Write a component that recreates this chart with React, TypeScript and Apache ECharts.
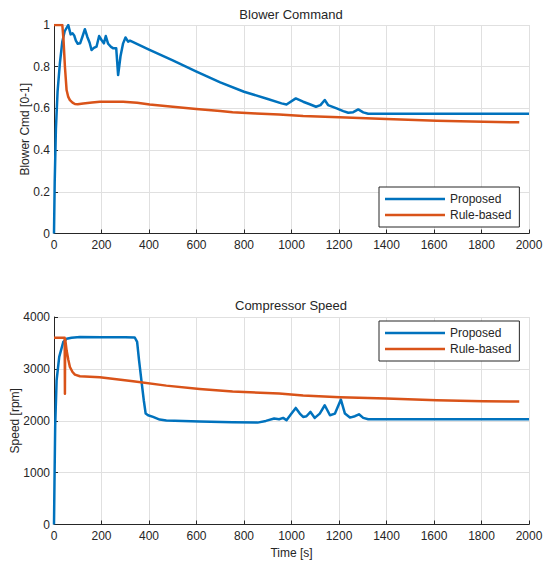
import React, { useEffect, useRef } from "react";
import * as echarts from "echarts";

// Blower command – proposed controller
const blowerPropT = [0, 3, 8, 15, 25, 35, 45, 60, 70, 78, 85, 92, 100, 110, 120, 130, 140, 150, 158, 168, 179, 190, 200, 210, 218, 228, 240, 250, 262, 270, 280, 291, 301, 312, 320, 400, 500, 600, 700, 800, 900, 958, 979, 1018, 1049, 1077, 1103, 1122, 1140, 1154, 1190, 1218, 1239, 1260, 1281, 1302, 1323, 1340, 1500, 2000];
const blowerPropV = [0, 0.25, 0.5, 0.68, 0.82, 0.92, 0.97, 1.0, 0.955, 0.96, 0.95, 0.925, 0.91, 0.912, 0.945, 0.98, 0.944, 0.915, 0.88, 0.89, 0.896, 0.947, 0.928, 0.912, 0.947, 0.91, 0.895, 0.888, 0.888, 0.76, 0.85, 0.912, 0.94, 0.92, 0.925, 0.882, 0.83, 0.776, 0.725, 0.68, 0.645, 0.624, 0.619, 0.648, 0.632, 0.62, 0.608, 0.616, 0.64, 0.616, 0.6, 0.587, 0.579, 0.582, 0.595, 0.581, 0.574, 0.574, 0.574, 0.574];

// Blower command – rule-based controller
const blowerRuleT = [0, 35, 40, 46, 53, 60, 67, 78, 88, 100, 123, 160, 193, 250, 291, 350, 403, 500, 599, 700, 752, 850, 948, 1049, 1201, 1400, 1611, 1808, 1959];
const blowerRuleV = [1, 1, 0.93, 0.8, 0.688, 0.655, 0.64, 0.628, 0.621, 0.62, 0.624, 0.628, 0.632, 0.632, 0.632, 0.627, 0.619, 0.608, 0.597, 0.587, 0.581, 0.576, 0.571, 0.563, 0.557, 0.549, 0.541, 0.536, 0.533];

// Compressor speed – proposed controller
const speedPropT = [0, 2, 5, 11, 22, 39, 53, 74, 109, 200, 300, 340, 350, 358, 368, 378, 386, 396, 417, 445, 473, 613, 752, 857, 892, 927, 948, 965, 979, 1000, 1018, 1035, 1049, 1063, 1080, 1098, 1119, 1140, 1162, 1183, 1208, 1225, 1246, 1267, 1284, 1302, 1323, 2000];
const speedPropV = [0, 800, 1900, 2780, 3230, 3518, 3580, 3600, 3613, 3612, 3610, 3605, 3520, 3170, 2780, 2395, 2138, 2106, 2074, 2022, 2003, 1984, 1971, 1964, 1997, 2042, 2030, 2055, 2010, 2138, 2247, 2138, 2074, 2087, 2170, 2055, 2138, 2299, 2106, 2138, 2408, 2138, 2061, 2087, 2125, 2055, 2029, 2029];

// Compressor speed – rule-based controller
const speedRuleT = [0, 45, 46, 47, 53, 60, 67, 78, 88, 109, 193, 333, 473, 613, 752, 948, 1049, 1204, 1400, 1611, 1808, 1959];
const speedRuleV = [3600, 3600, 2520, 3580, 3358, 3180, 3037, 2940, 2889, 2857, 2838, 2761, 2677, 2613, 2562, 2523, 2485, 2453, 2427, 2395, 2376, 2369];

const seriesNames = ["Proposed", "Rule-based"];
const titles = ["Blower Command", "Compressor Speed"];
const yNames = ["Blower Cmd [0-1]", "Speed [rpm]"];
const xName = "Time [s]";

const zip = (t: number[], v: number[]) => t.map((x, i) => [x, v[i]]);

const BLUE = "#0072BD";
const ORANGE = "#D95319";
const TXT = "#262626";
const FONT = "Liberation Sans";

export default function App() {
  const ref = useRef<HTMLDivElement>(null);
  useEffect(() => {
    if (!ref.current) return;
    const chart = echarts.init(ref.current, undefined, { renderer: "svg" });
    const fmt = (v: number) => String(v);
    const mkX = (gi: number, withName: boolean) => ({
      type: "value",
      gridIndex: gi,
      min: 0,
      max: 2000,
      interval: 200,
      name: withName ? xName : "",
      nameLocation: "middle",
      nameGap: 22,
      nameMoveOverlap: false,
      nameTextStyle: { color: TXT, fontSize: 12, fontFamily: FONT },
      axisLine: { show: true, onZero: false, lineStyle: { color: TXT, width: 1 } },
      axisTick: { show: true, inside: true, length: 4, lineStyle: { color: TXT } },
      axisLabel: { color: TXT, fontSize: 12, fontFamily: FONT, margin: 5, formatter: fmt },
      splitLine: { show: true, lineStyle: { color: "#e0e0e0", width: 1 } },
    });
    const mkY = (gi: number, max: number, interval: number, name: string, gap: number) => ({
      type: "value",
      gridIndex: gi,
      min: 0,
      max,
      interval,
      name,
      nameLocation: "middle",
      nameGap: gap,
      nameMoveOverlap: false,
      nameTextStyle: { color: TXT, fontSize: 12, fontFamily: FONT },
      axisLine: { show: true, lineStyle: { color: TXT, width: 1 } },
      axisTick: { show: true, inside: true, length: 4, lineStyle: { color: TXT } },
      axisLabel: { color: TXT, fontSize: 12, fontFamily: FONT, margin: 4, formatter: fmt },
      splitLine: { show: true, lineStyle: { color: "#e0e0e0", width: 1 } },
    });
    const mkLegend = (top: number) => ({
      orient: "vertical",
      left: 379,
      top,
      icon: "rect",
      itemWidth: 60,
      itemHeight: 2.5,
      itemGap: 4,
      padding: [6, 8, 6, 6],
      borderColor: TXT,
      borderWidth: 1,
      backgroundColor: "#ffffff",
      selectedMode: false,
      data: seriesNames,
      textStyle: { color: TXT, fontSize: 12, fontFamily: FONT },
    });
    const line = (name: string, color: string, data: number[][], idx: number) => ({
      type: "line",
      name,
      xAxisIndex: idx,
      yAxisIndex: idx,
      data,
      symbol: "none",
      showSymbol: false,
      lineStyle: { color, width: 2.5, join: "round" },
      itemStyle: { color },
    });
    chart.setOption({
      animation: false,
      backgroundColor: "#ffffff",
      title: [
        { text: titles[0], left: 291, top: 8, padding: 0, textAlign: "center", textStyle: { color: TXT, fontSize: 13, fontWeight: "normal", fontFamily: FONT } },
        { text: titles[1], left: 291, top: 299, padding: 0, textAlign: "center", textStyle: { color: TXT, fontSize: 13, fontWeight: "normal", fontFamily: FONT } },
      ],
      grid: [
        { left: 54, top: 25, width: 475, height: 208.5, outerBoundsMode: "none", containLabel: false },
        { left: 54, top: 317, width: 475, height: 207.5, outerBoundsMode: "none", containLabel: false },
      ],
      xAxis: [mkX(0, false), mkX(1, true)],
      yAxis: [mkY(0, 1, 0.2, yNames[0], 23), mkY(1, 4000, 1000, yNames[1], 33)],
      legend: [mkLegend(187), mkLegend(321)],
      series: [
        line(seriesNames[0], BLUE, zip(blowerPropT, blowerPropV), 0),
        line(seriesNames[1], ORANGE, zip(blowerRuleT, blowerRuleV), 0),
        line(seriesNames[0], BLUE, zip(speedPropT, speedPropV), 1),
        line(seriesNames[1], ORANGE, zip(speedRuleT, speedRuleV), 1),
      ],
    });
    return () => chart.dispose();
  }, []);
  return <div ref={ref} style={{ position: "fixed", left: 0, top: 0, width: 550, height: 569 }} />;
}
